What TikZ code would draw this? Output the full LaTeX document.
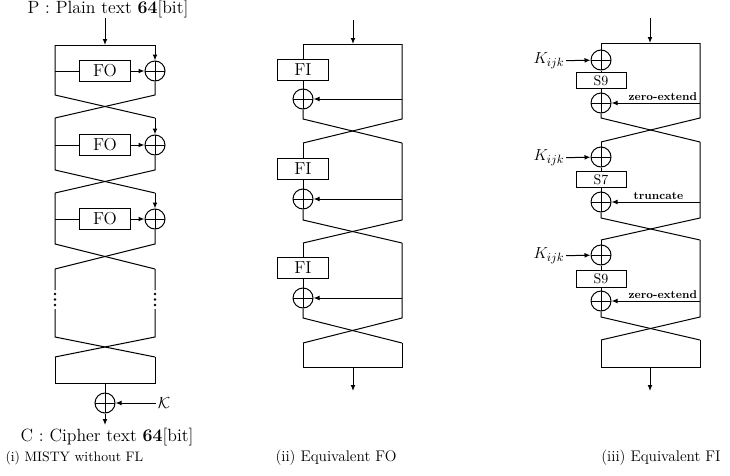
\documentclass[tikz,border=0pt]{standalone}
\usepackage{tikz}
\usetikzlibrary{arrows.meta, positioning, calc}
\tikzset{
  fnbox/.style={draw, minimum width=38pt, minimum height=15.5pt, inner sep=0pt,
                font=\fontsize{13}{15}\selectfont},
  sbox/.style={draw, minimum width=37.5pt, minimum height=12.5pt, inner sep=0pt,
               font=\fontsize{10.5}{12}\selectfont},
  xor/.style={circle, draw, minimum size=15pt, inner sep=0pt,
              path picture={\draw (path picture bounding box.north) -- (path picture bounding box.south)
                                  (path picture bounding box.west) -- (path picture bounding box.east);}},
  flow/.style={-{Latex[length=4.5pt, width=3.6pt]}},
  iotext/.style={font=\fontsize{13.3}{15}\selectfont, inner sep=0pt},
  captext/.style={font=\fontsize{11.5}{14}\selectfont, inner sep=0pt},
  keytext/.style={font=\fontsize{13}{15}\selectfont, inner sep=1pt},
  extnote/.style={font=\fontsize{8.5}{10}\selectfont\bfseries, inner sep=1.5pt}
}

\begin{document}
\begin{tikzpicture}[x=0.75pt, y=-0.75pt, line width=0.75pt]
  \useasboundingbox (0,0) rectangle (730,475);

  % (i) MISTY without FL
  \coordinate (iL) at (55,0);
  \coordinate (iR) at (155,0);
  \node[iotext] (ptxt) at (108,9) {P : Plain text \textbf{64}[bit]};
  \coordinate (ia) at (105,45);
  \draw[flow] (ptxt.south -| ia) -- (ia);
  \draw (55,45) -- (155,45);
  % round 1
  \node[fnbox] (fo1) at (105,71) {FO};
  \node[xor] (ix1) at (155,71) {};
  \draw (55,45) -- (55,95) -- (155,118);
  \draw (ix1) -- (155,95) -- (55,118);
  \draw[flow] (ix1 |- ia) -- (ix1);
  \draw (fo1 -| iL) -- (fo1);
  \draw[flow] (fo1) -- (ix1);
  % round 2
  \coordinate (ir2) at (155,118);
  \node[fnbox] (fo2) at (105,145) {FO};
  \node[xor] (ix2) at (155,145) {};
  \draw (55,118) -- (55,170) -- (155,193);
  \draw (ix2) -- (155,170) -- (55,193);
  \draw[flow] (ir2) -- (ix2);
  \draw (fo2 -| iL) -- (fo2);
  \draw[flow] (fo2) -- (ix2);
  % round 3
  \coordinate (ir3) at (155,193);
  \node[fnbox] (fo3) at (105,219) {FO};
  \node[xor] (ix3) at (155,219) {};
  \draw (55,193) -- (55,244) -- (155,269);
  \draw (ix3) -- (155,244) -- (55,269);
  \draw[flow] (ir3) -- (ix3);
  \draw (fo3 -| iL) -- (fo3);
  \draw[flow] (fo3) -- (ix3);
  % omitted rounds
  \draw (55,269) -- (55,290) (55,309) -- (55,337) -- (155,357);
  \draw (155,269) -- (155,290) (155,309) -- (155,337) -- (55,357);
  \fill (55,294) circle (1.3) (55,299.5) circle (1.3) (55,305) circle (1.3);
  \fill (155,294) circle (1.3) (155,299.5) circle (1.3) (155,305) circle (1.3);
  % output whitening
  \draw (55,357) -- (55,383) -- (155,383) -- (155,357);
  \coordinate (ib) at (105,383);
  \node[xor] (ixk) at (105,403) {};
  \node[keytext] (kk) at (164,403) {$\mathcal{K}$};
  \coordinate (ic) at (105,425);
  \draw (ib) -- (ixk);
  \draw[flow] (kk) -- (ixk);
  \draw[flow] (ixk) -- (ic);
  \node[iotext] (ctxt) at (107,437) {C : Cipher text \textbf{64}[bit]};
  \node[captext, anchor=west, font=\fontsize{10.3}{13}\selectfont] (cap1) at (5,458) {(i) MISTY without FL};

  % (ii) Equivalent FO
  \coordinate (eR) at (402,0);
  \coordinate (eIn) at (353,20);
  \coordinate (eTop) at (353,44);
  \draw[flow] (eIn) -- (eTop);
  \draw (303,44) -- (402,44);
  % round 1
  \node[fnbox] (fi1) at (303,70) {FI};
  \node[xor] (ex1) at (303,99) {};
  \draw (303,44) -- (fi1) (fi1) -- (ex1);
  \draw (ex1) -- (303,119) -- (402,143);
  \draw (402,44) -- (402,119) -- (303,143);
  \draw[flow] (ex1 -| eR) -- (ex1);
  % round 2
  \node[fnbox] (fi2) at (303,169) {FI};
  \node[xor] (ex2) at (303,199) {};
  \draw (303,143) -- (fi2) (fi2) -- (ex2);
  \draw (ex2) -- (303,220) -- (402,243);
  \draw (402,143) -- (402,220) -- (303,243);
  \draw[flow] (ex2 -| eR) -- (ex2);
  % round 3
  \node[fnbox] (fi3) at (303,268) {FI};
  \node[xor] (ex3) at (303,298) {};
  \draw (303,243) -- (fi3) (fi3) -- (ex3);
  \draw (ex3) -- (303,318) -- (402,343);
  \draw (402,243) -- (402,318) -- (303,343);
  \draw[flow] (ex3 -| eR) -- (ex3);
  \draw (303,343) -- (303,367) -- (402,367) -- (402,343);
  \coordinate (eBot) at (353,367);
  \coordinate (eOut) at (353,391);
  \draw[flow] (eBot) -- (eOut);
  \node[captext] (cap2) at (336,458) {(ii) Equivalent FO};

  % (iii) Equivalent FI
  \coordinate (fR) at (700,0);
  \coordinate (fIn) at (650,18);
  \coordinate (fTop) at (650,43);
  \draw[flow] (fIn) -- (fTop);
  \draw (601,43) -- (700,43);
  % round 1
  \node[xor] (fk1) at (601,60) {};
  \node[keytext] (k1) at (549,61) {$K_{ijk}$};
  \node[sbox] (s1) at (601,80.5) {S9};
  \node[xor] (fx1) at (601,103) {};
  \draw (601,43) -- (fk1) (fk1) -- (s1) (s1) -- (fx1);
  \draw (fx1) -- (601,118) -- (700,142);
  \draw (700,43) -- (700,118) -- (601,142);
  \draw[flow] (k1) -- (fk1);
  \draw[flow] (fx1 -| fR) -- node[extnote, pos=0.42, above] {zero-extend} (fx1);
  % round 2
  \node[xor] (fk2) at (601,157) {};
  \node[keytext] (k2) at (549,158) {$K_{ijk}$};
  \node[sbox] (s2) at (601,179.5) {S7};
  \node[xor] (fx2) at (601,202) {};
  \draw (601,142) -- (fk2) (fk2) -- (s2) (s2) -- (fx2);
  \draw (fx2) -- (601,218) -- (700,240);
  \draw (700,142) -- (700,218) -- (601,240);
  \draw[flow] (k2) -- (fk2);
  \draw[flow] (fx2 -| fR) -- node[extnote, pos=0.47, above] {truncate} (fx2);
  % round 3
  \node[xor] (fk3) at (601,255) {};
  \node[keytext] (k3) at (549,256) {$K_{ijk}$};
  \node[sbox] (s3) at (601,279) {S9};
  \node[xor] (fx3) at (601,301) {};
  \draw (601,240) -- (fk3) (fk3) -- (s3) (s3) -- (fx3);
  \draw (fx3) -- (601,317) -- (700,340);
  \draw (700,240) -- (700,317) -- (601,340);
  \draw[flow] (k3) -- (fk3);
  \draw[flow] (fx3 -| fR) -- node[extnote, pos=0.42, above] {zero-extend} (fx3);
  \draw (601,340) -- (601,367) -- (700,367) -- (700,340);
  \coordinate (fBot) at (650,367);
  \coordinate (fOut) at (650,391);
  \draw[flow] (fBot) -- (fOut);
  \node[captext] (cap3) at (661,458) {(iii) Equivalent FI};
\end{tikzpicture}
\end{document}
